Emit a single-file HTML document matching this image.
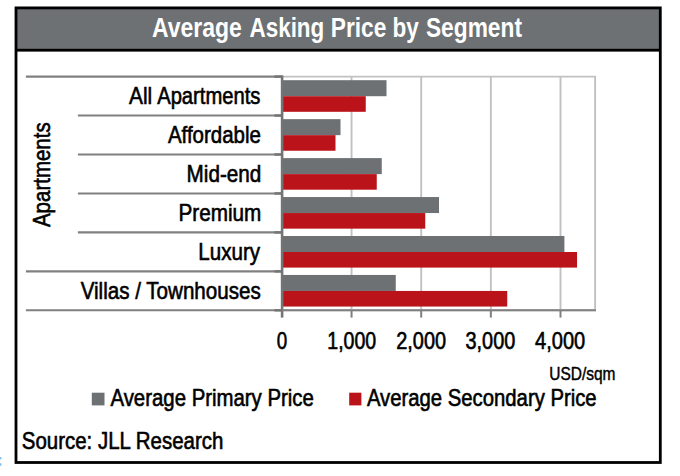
<!DOCTYPE html>
<html><head><meta charset="utf-8"><title>Average Asking Price by Segment</title>
<style>
html,body{margin:0;padding:0;background:#fff;}
body{width:680px;height:476px;overflow:hidden;font-family:"Liberation Sans",sans-serif;}
svg{display:block;font-family:"Liberation Sans",sans-serif;}
</style></head><body>
<svg width="680" height="476" viewBox="0 0 680 476">
<rect x="0" y="0" width="680" height="476" fill="#fff"/>
<rect x="16" y="8" width="644" height="42" fill="#6d7174"/>
<rect x="16.0" y="7.9" width="644.3" height="454.6" fill="none" stroke="#000" stroke-width="2.8"/>
<rect x="16" y="48.8" width="644" height="2.8" fill="#000"/>
<rect x="0" y="457" width="1.4" height="2.4" fill="#7fc0f4"/>
<rect x="0" y="463.2" width="1.4" height="2.6" fill="#7fc0f4"/>
<g stroke="#c1c1c1" stroke-width="1.9" fill="none">
<line x1="351.55" y1="76.60" x2="351.55" y2="310.30"/>
<line x1="421.20" y1="76.60" x2="421.20" y2="310.30"/>
<line x1="490.85" y1="76.60" x2="490.85" y2="310.30"/>
<line x1="560.50" y1="76.60" x2="560.50" y2="310.30"/>
<polyline points="281.90,76.60 595.10,76.60 595.10,310.30 281.90,310.30"/>
</g>
<rect x="281.90" y="80.20" width="104.60" height="16.0" fill="#6d7174"/>
<rect x="281.90" y="96.20" width="83.85" height="15.6" fill="#bb131a"/>
<rect x="281.90" y="119.15" width="58.60" height="16.0" fill="#6d7174"/>
<rect x="281.90" y="135.15" width="53.60" height="15.6" fill="#bb131a"/>
<rect x="281.90" y="158.10" width="99.85" height="16.0" fill="#6d7174"/>
<rect x="281.90" y="174.10" width="94.85" height="15.6" fill="#bb131a"/>
<rect x="281.90" y="197.05" width="157.10" height="16.0" fill="#6d7174"/>
<rect x="281.90" y="213.05" width="143.35" height="15.6" fill="#bb131a"/>
<rect x="281.90" y="236.00" width="282.50" height="16.0" fill="#6d7174"/>
<rect x="281.90" y="252.00" width="295.15" height="15.6" fill="#bb131a"/>
<rect x="281.90" y="274.95" width="113.85" height="16.0" fill="#6d7174"/>
<rect x="281.90" y="290.95" width="225.35" height="15.6" fill="#bb131a"/>
<g stroke="#808080" stroke-width="2.1">
<line x1="25.90" y1="76.60" x2="282.90" y2="76.60"/>
<line x1="274.40" y1="76.60" x2="281.90" y2="76.60" stroke="#767676" stroke-width="2.5"/>
<line x1="77.90" y1="115.55" x2="282.90" y2="115.55"/>
<line x1="274.40" y1="115.55" x2="281.90" y2="115.55" stroke="#767676" stroke-width="2.5"/>
<line x1="77.90" y1="154.50" x2="282.90" y2="154.50"/>
<line x1="274.40" y1="154.50" x2="281.90" y2="154.50" stroke="#767676" stroke-width="2.5"/>
<line x1="77.90" y1="193.45" x2="282.90" y2="193.45"/>
<line x1="274.40" y1="193.45" x2="281.90" y2="193.45" stroke="#767676" stroke-width="2.5"/>
<line x1="77.90" y1="232.40" x2="282.90" y2="232.40"/>
<line x1="274.40" y1="232.40" x2="281.90" y2="232.40" stroke="#767676" stroke-width="2.5"/>
<line x1="25.90" y1="271.35" x2="282.90" y2="271.35"/>
<line x1="274.40" y1="271.35" x2="281.90" y2="271.35" stroke="#767676" stroke-width="2.5"/>
<line x1="25.90" y1="310.30" x2="282.90" y2="310.30"/>
<line x1="274.40" y1="310.30" x2="281.90" y2="310.30" stroke="#767676" stroke-width="2.5"/>
</g>
<g stroke="#747474" stroke-width="2.6">
<line x1="282.10" y1="75.60" x2="282.10" y2="317.60"/>
</g>
<g stroke="#808080" stroke-width="2.0">
<line x1="351.55" y1="310.30" x2="351.55" y2="317.60"/>
<line x1="421.20" y1="310.30" x2="421.20" y2="317.60"/>
<line x1="490.85" y1="310.30" x2="490.85" y2="317.60"/>
<line x1="560.50" y1="310.30" x2="560.50" y2="317.60"/>
<line x1="281.90" y1="310.30" x2="595.95" y2="310.30"/>
</g>
<text x="152.03" y="37.10" font-size="28.20" font-weight="bold" fill="#fff" textLength="89.74" lengthAdjust="spacingAndGlyphs">Average</text>
<text x="249.44" y="37.10" font-size="28.20" font-weight="bold" fill="#fff" textLength="74.86" lengthAdjust="spacingAndGlyphs">Asking</text>
<text x="330.78" y="37.10" font-size="28.20" font-weight="bold" fill="#fff" textLength="55.49" lengthAdjust="spacingAndGlyphs">Price</text>
<text x="392.41" y="37.10" font-size="28.20" font-weight="bold" fill="#fff" textLength="26.31" lengthAdjust="spacingAndGlyphs">by</text>
<text x="425.94" y="37.10" font-size="28.20" font-weight="bold" fill="#fff" textLength="96.03" lengthAdjust="spacingAndGlyphs">Segment</text>
<text x="128.96" y="104.10" font-size="24.30" font-weight="normal" fill="#000" textLength="23.24" lengthAdjust="spacingAndGlyphs" stroke="#000" stroke-width="0.62">All</text>
<text x="157.16" y="104.10" font-size="24.30" font-weight="normal" fill="#000" textLength="103.27" lengthAdjust="spacingAndGlyphs" stroke="#000" stroke-width="0.62">Apartments</text>
<text x="167.96" y="143.10" font-size="24.30" font-weight="normal" fill="#000" textLength="92.95" lengthAdjust="spacingAndGlyphs" stroke="#000" stroke-width="0.62">Affordable</text>
<text x="186.55" y="182.10" font-size="24.30" font-weight="normal" fill="#000" textLength="74.78" lengthAdjust="spacingAndGlyphs" stroke="#000" stroke-width="0.62">Mid-end</text>
<text x="178.50" y="221.10" font-size="24.30" font-weight="normal" fill="#000" textLength="82.86" lengthAdjust="spacingAndGlyphs" stroke="#000" stroke-width="0.62">Premium</text>
<text x="198.31" y="260.10" font-size="24.30" font-weight="normal" fill="#000" textLength="61.73" lengthAdjust="spacingAndGlyphs" stroke="#000" stroke-width="0.62">Luxury</text>
<text x="80.66" y="299.10" font-size="24.30" font-weight="normal" fill="#000" textLength="180.07" lengthAdjust="spacingAndGlyphs" stroke="#000" stroke-width="0.62">Villas / Townhouses</text>
<text x="276.66" y="348.50" font-size="24.30" font-weight="normal" fill="#000" textLength="10.47" lengthAdjust="spacingAndGlyphs" stroke="#000" stroke-width="0.62">0</text>
<text x="327.26" y="348.50" font-size="24.30" font-weight="normal" fill="#000" textLength="49.01" lengthAdjust="spacingAndGlyphs" stroke="#000" stroke-width="0.62">1,000</text>
<text x="396.20" y="348.50" font-size="24.30" font-weight="normal" fill="#000" textLength="49.88" lengthAdjust="spacingAndGlyphs" stroke="#000" stroke-width="0.62">2,000</text>
<text x="465.49" y="348.50" font-size="24.30" font-weight="normal" fill="#000" textLength="49.78" lengthAdjust="spacingAndGlyphs" stroke="#000" stroke-width="0.62">3,000</text>
<text x="535.04" y="348.50" font-size="24.30" font-weight="normal" fill="#000" textLength="50.25" lengthAdjust="spacingAndGlyphs" stroke="#000" stroke-width="0.62">4,000</text>
<text x="549.31" y="380.40" font-size="18.00" font-weight="normal" fill="#000" textLength="66.21" lengthAdjust="spacingAndGlyphs" stroke="#000" stroke-width="0.46">USD/sqm</text>
<rect x="91.8" y="392.7" width="12.7" height="12.7" fill="#6d7174"/>
<rect x="349.2" y="392.7" width="12.2" height="12.7" fill="#bb131a"/>
<text x="110.46" y="406.20" font-size="24.30" font-weight="normal" fill="#000" textLength="203.44" lengthAdjust="spacingAndGlyphs" stroke="#000" stroke-width="0.62">Average Primary Price</text>
<text x="366.96" y="406.20" font-size="24.30" font-weight="normal" fill="#000" textLength="229.69" lengthAdjust="spacingAndGlyphs" stroke="#000" stroke-width="0.62">Average Secondary Price</text>
<text x="21.77" y="449.00" font-size="24.30" font-weight="normal" fill="#000" textLength="201.55" lengthAdjust="spacingAndGlyphs" stroke="#000" stroke-width="0.62">Source: JLL Research</text>
<text x="-0.04" y="0" font-size="24.30" textLength="104.68" lengthAdjust="spacingAndGlyphs" stroke="#000" stroke-width="0.62" transform="translate(50.0,227.0) rotate(-90)">Apartments</text>
</svg>
</body></html>
